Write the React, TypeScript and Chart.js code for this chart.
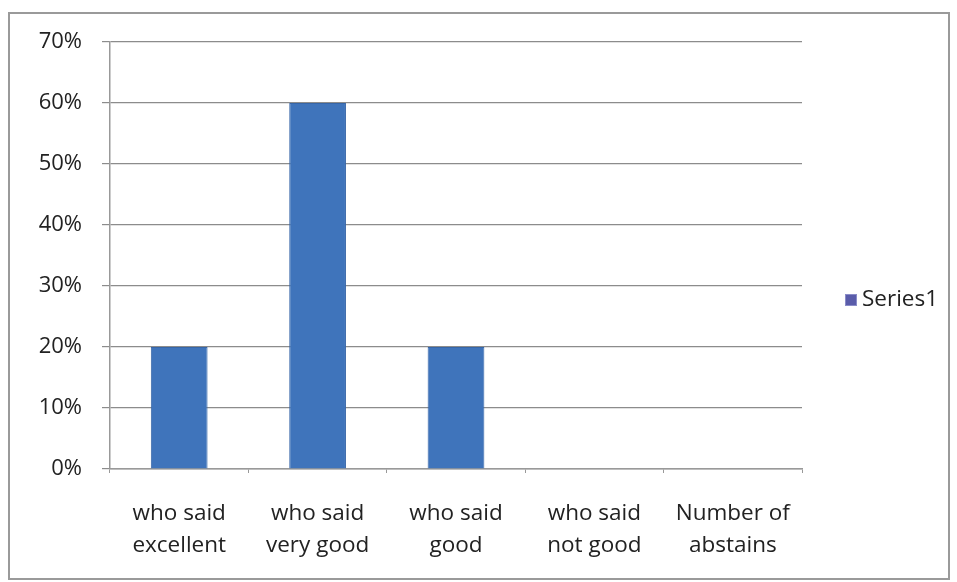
import React, { useEffect, useRef } from "react";
import { Chart, registerables } from "chart.js";

Chart.register(...registerables);

const categories: string[][] = [
  ["who said", "excellent"],
  ["who said", "very good"],
  ["who said", "good"],
  ["who said", "not good"],
  ["Number of", "abstains"],
];
const seriesName = "Series1";
const seriesValues: number[] = [20, 60, 20, 0, 0];
const yMax = 70;
const yStep = 10;

const FONT = "'Open Sans', Lato, sans-serif";

const legendPlugin = {
  id: "customLegend",
  afterDraw(chart: any) {
    const ctx = chart.ctx;
    const ds = chart.data.datasets[0];
    ctx.save();
    ctx.fillStyle = "#5a5caa";
    ctx.fillRect(845, 294, 12, 12);
    ctx.strokeStyle = "#8a8cc8";
    ctx.lineWidth = 1;
    ctx.strokeRect(845.5, 294.5, 11, 11);
    ctx.fillStyle = "#222";
    ctx.font = "22.5px " + FONT;
    ctx.textBaseline = "middle";
    ctx.textAlign = "left";
    ctx.fillText(ds.label, 862, 300);
    ctx.restore();
  },
};

export default function App() {
  const ref = useRef<HTMLCanvasElement>(null);
  useEffect(() => {
    if (!ref.current) return;
    const chart = new Chart(ref.current, {
      type: "bar",
      data: {
        labels: categories,
        datasets: [
          {
            label: seriesName,
            data: seriesValues,
            backgroundColor: "#3f74bb",
            borderColor: "#3766a8",
            borderWidth: 1,
            barPercentage: 0.41,
            categoryPercentage: 1,
          },
        ],
      },
      options: {
        animation: false,
        responsive: false,
        maintainAspectRatio: false,
        layout: { padding: { top: 42, right: 155, bottom: 0, left: 0 } },
        plugins: { legend: { display: false }, tooltip: { enabled: false } },
        scales: {
          x: {
            grid: {
              drawOnChartArea: false,
              drawTicks: true,
              tickLength: 4,
              color: "#999",
              offset: true,
            },
            border: { color: "#999", width: 1.5 },
            ticks: {
              color: "#222",
              font: { family: FONT, size: 22.5, lineHeight: 1.42 },
              padding: 25,
              maxRotation: 0,
              autoSkip: false,
            },
            afterFit(scale: any) {
              scale.height = 113;
            },
          },
          y: {
            min: 0,
            max: yMax,
            grid: { color: "#8c8c8c", tickLength: 8, lineWidth: 1.2 },
            border: { color: "#999", width: 1.5 },
            ticks: {
              stepSize: yStep,
              color: "#222",
              font: { family: FONT, size: 22 },
              padding: 20,
              callback: (v: any) => v + "%",
            },
            afterFit(scale: any) {
              scale.width = 110;
            },
          },
        },
      },
      plugins: [legendPlugin],
    });
    return () => chart.destroy();
  }, []);
  return (
    <div style={{ position: "fixed", left: 0, top: 0, width: 957, height: 582, background: "#fff" }}>
      <div
        style={{
          position: "absolute",
          left: 8,
          top: 12,
          width: 942,
          height: 568,
          border: "2px solid #9a9a9a",
          boxSizing: "border-box",
        }}
      />
      <canvas ref={ref} width={957} height={582} style={{ position: "absolute", left: 0, top: 0 }} />
    </div>
  );
}
